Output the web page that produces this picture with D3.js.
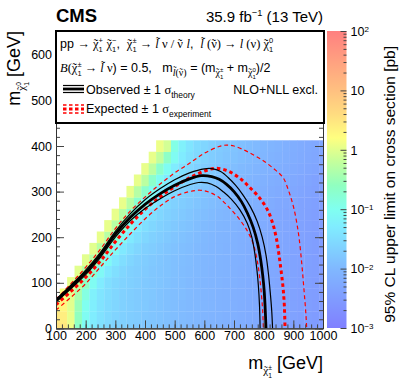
<!DOCTYPE html>
<html>
<head>
<meta charset="utf-8">
<title>chargino slepton limit</title>
<script src="https://d3js.org/d3.v7.min.js"></script>
<style>
  body { margin: 0; background: #fff; }
  svg text { font-family: "Liberation Sans", Arial, Helvetica, sans-serif; fill: #000; white-space: pre; }
  .tk line { stroke: #444; }
  .tk path { stroke: #333; }
</style>
</head>
<body>
<svg id="chart" width="399" height="383"></svg>
<script>
// ---- data ----
const mChi = [100,125,150,175,200,225,250,275,300,325,350,375,400,425,450,475,500,525,550,575,
              600,625,650,675,700,725,750,775,800,825,850,875,900,925,950,975,1000];
const mLsp = [0,25,50,75,100,125,150,175,200,225,250,275,300,325,350,375,400];

// 95% CL upper limits [pb], one row per LSP mass, last entry at m(chi) = 1000
const lim0   = [3.5,2.8,1.2,.22,.085,.05,.036,.028,.024,.021,.019,.017,.016,.015,.014,.013,.012,.011,.010,.0095,.009,.0085,.008,.0075,.007,.0065,.006,.0056,.0052,.0048,.0045,.0042,.0039,.0036,.0033,.0031,.0029];
const lim25  = [3.0,2.5,1.1,.25,.09,.052,.037,.029,.024,.021,.019,.018,.016,.015,.014,.013,.012,.011,.0102,.0096,.009,.0086,.008,.0076,.0071,.0066,.0061,.0057,.0053,.0049,.0046,.0043,.004,.0037,.0034,.0032,.003];
const lim50  = [2.2,2.0,1.0,.3,.1,.055,.038,.03,.025,.022,.02,.018,.017,.015,.014,.013,.012,.011,.0104,.0098,.0092,.0087,.0082,.0077,.0072,.0067,.0062,.0058,.0054,.005,.0046,.0043,.004,.0037,.0035,.0032,.003];
const lim75  = [1.5,1.0,.4,.13,.06,.04,.031,.026,.022,.02,.018,.017,.016,.014,.013,.012,.0115,.0106,.01,.0093,.0088,.0083,.0078,.0073,.0068,.0063,.0059,.0055,.0051,.0047,.0044,.0041,.0038,.0035,.0033,.003];
const lim100 = [1.1,.6,.22,.09,.05,.034,.027,.023,.021,.019,.017,.016,.015,.0135,.0125,.0117,.0108,.0101,.0094,.0089,.0084,.0079,.0074,.0069,.0064,.006,.0056,.0052,.0048,.0045,.0042,.0039,.0036,.0033,.0031];
const lim125 = [1.0,.5,.18,.08,.046,.033,.026,.022,.02,.018,.016,.015,.014,.0128,.0118,.011,.0102,.0095,.009,.0085,.008,.0075,.007,.0065,.006,.0056,.0052,.0049,.0045,.0042,.0039,.0036,.0034,.0031];
const lim150 = [1.0,.5,.17,.08,.045,.032,.025,.021,.019,.017,.0155,.0142,.013,.012,.0112,.0104,.0097,.0091,.0086,.0081,.0076,.0071,.0066,.0061,.0057,.0053,.0049,.0046,.0043,.004,.0037,.0034,.0032];
const lim175 = [1.0,.5,.17,.08,.045,.032,.025,.021,.019,.017,.015,.0135,.0124,.0115,.0106,.0099,.0093,.0087,.0082,.0077,.0072,.0067,.0062,.0058,.0054,.005,.0047,.0043,.004,.0037,.0035,.0032];
const lim200 = [1.1,.5,.18,.085,.047,.033,.026,.022,.019,.017,.015,.0135,.0124,.0113,.0104,.0097,.009,.0084,.0078,.0073,.0068,.0063,.0059,.0055,.0051,.0047,.0044,.0041,.0038,.0035,.0032];
const lim225 = [1.1,.5,.18,.085,.047,.033,.026,.022,.019,.017,.015,.0135,.0122,.0111,.0102,.0094,.0087,.008,.0074,.0069,.0064,.006,.0055,.0051,.0048,.0044,.0041,.0038,.0035,.0033];
const lim250 = [1.1,.5,.19,.085,.048,.034,.026,.022,.019,.017,.015,.0134,.012,.011,.0101,.0093,.0085,.0078,.0072,.0066,.0061,.0056,.0052,.0048,.0045,.0042,.0039,.0036,.0033];
const lim275 = [1.1,.5,.19,.085,.048,.034,.026,.022,.019,.017,.015,.0133,.012,.0109,.01,.0092,.0084,.0077,.0071,.0065,.006,.0055,.0051,.0047,.0043,.004,.0037,.0034];
const lim300 = [1.1,.5,.2,.09,.05,.035,.027,.022,.019,.017,.015,.0133,.012,.0108,.0098,.009,.0082,.0075,.0069,.0063,.0058,.0053,.0049,.0045,.0042,.0039,.0036];
const lim325 = [1.1,.55,.2,.09,.05,.035,.027,.022,.019,.017,.015,.0133,.012,.0108,.0098,.009,.0082,.0075,.0069,.0063,.0058,.0053,.0049,.0045,.0041,.0038];
const lim350 = [1.1,.55,.2,.09,.05,.035,.027,.022,.019,.017,.015,.0133,.012,.0108,.0098,.009,.0082,.0075,.0069,.0063,.0058,.0053,.0049,.0045,.0041];
const lim375 = [1.1,.6,.22,.09,.05,.036,.028,.023,.019,.017,.015,.0135,.012,.011,.01,.0091,.0083,.0076,.007,.0064,.0058,.0053,.0049,.0045];
const lim400 = [1.2,.8,.12,.06,.04,.03,.025,.021,.018,.016,.0145,.013,.0118,.0107,.0097,.0088,.008,.0073,.0067,.0061,.0056,.0051,.0047];
const limRows = [lim0,lim25,lim50,lim75,lim100,lim125,lim150,lim175,lim200,lim225,lim250,lim275,lim300,lim325,lim350,lim375,lim400];

// exclusion contours, [m(chi1+-), m(chi1 0)]
const obsCurve = [[100,61],[150,91],[200,123],[250,162],[300,207],[350,243],[400,272],[450,295],[500,314],[550,328],[590,335],[625,333],[650,327],[675,316],[700,300],[725,278],[745,253],[765,221],[780,186],[790,150],[797,115],[802,80],[805,45],[808,0]];
const obsUp    = [[100,64],[150,95],[200,128],[250,167],[300,213],[350,251],[400,282],[450,306],[500,326],[550,341],[600,350],[630,350],[655,344],[680,331],[705,314],[730,293],[755,267],[778,235],[795,200],[808,160],[816,120],[822,80],[827,40],[830,0]];
const obsDown  = [[100,58],[150,87],[200,118],[250,156],[300,200],[350,236],[400,263],[450,284],[500,302],[550,315],[580,320],[610,319],[640,311],[665,299],[690,284],[720,260],[745,230],[760,200],[770,165],[777,130],[782,95],[786,50],[788,0]];
const expCurve = [[100,52],[150,81],[200,112],[250,148],[300,190],[350,228],[400,261],[450,288],[500,311],[550,330],[600,345],[640,351],[680,345],[720,329],[755,308],[790,283],[815,257],[832,227],[845,190],[853,155],[860,120],[866,85],[870,45],[872,0]];
const expUp    = [[100,64],[150,98],[200,134],[250,174],[300,219],[350,257],[400,288],[450,316],[500,341],[550,362],[600,384],[650,399],[675,402],[700,400],[750,386],[800,367],[840,347],[866,330],[885,300],[900,268],[912,230],[920,195],[928,145],[934,100],[939,60],[943,25],[945,0]];
const expDown  = [[100,40],[150,68],[200,98],[250,135],[300,172],[350,207],[400,240],[450,268],[500,289],[550,300],[585,303],[615,299],[645,289],[675,271],[710,246],[743,216],[765,185],[778,150],[786,115],[793,70],[797,35],[799,0]];

const xTicks = [100,200,300,400,500,600,700,800,900,1000];
const yTicks = [0,100,200,300,400,500,600];
const zTicks = [1e-3,1e-2,1e-1,1,10,100];
const zLabels = [["10","\u22123"],["10","\u22122"],["10","\u22121"],["1",""],["10",""],["10","2"]];

// ---- drawing ----
const SANS = "'Liberation Sans', Arial, Helvetica, sans-serif";
const SERIF = "'Liberation Serif', 'Times New Roman', serif";
const svg = d3.select("#chart");

const x = d3.scaleLinear().domain([100, 1000]).range([56, 323]);
const y = d3.scaleLinear().domain([0, 650]).range([328.4, 32]);
const z = d3.scaleLog().domain([1e-3, 1e2]).range([328, 31]);

const palStops = [-3, -2, -1.3, -1, -0.6, -0.2, 0.2, 0.6, 1, 1.5, 2];
const palCols  = ["#8080ff","#80b8ff","#80ecff","#80fff0","#90ffc0","#c4ff9c","#ffff80","#ffdc80","#ffc080","#ffa080","#ff8080"];
const pal = d3.scaleLinear().domain(palStops).range(palCols).clamp(true);
const colorOf = v => pal(Math.log10(v));

svg.append("defs").append("clipPath").attr("id", "frame")
  .append("rect").attr("x", 56).attr("y", 31).attr("width", 267).attr("height", 297.4);

// heat map cells
const cells = [];
limRows.forEach(function(row, k) {
  const start = mChi.length - row.length;
  row.forEach(function(v, j) { cells.push({mc: mChi[start + j], ml: mLsp[k], v: v}); });
});
svg.append("g").attr("clip-path", "url(#frame)")
  .selectAll("rect").data(cells).enter().append("rect")
    .attr("x", d => x(d.mc - 12.5))
    .attr("y", d => y(d.ml + 12.5))
    .attr("width", d => x(d.mc + 12.5) - x(d.mc - 12.5) + 0.3)
    .attr("height", d => y(d.ml - 12.5) - y(d.ml + 12.5) + 0.3)
    .attr("fill", d => colorOf(d.v));

// contours
const line = d3.line().x(d => x(d[0])).y(d => y(d[1])).curve(d3.curveCatmullRom.alpha(0.5));
const cg = svg.append("g").attr("clip-path", "url(#frame)").attr("fill", "none");
cg.append("path").attr("d", line(expUp)).attr("stroke", "#ff0000").attr("stroke-width", 1.2).attr("stroke-dasharray", "4,3");
cg.append("path").attr("d", line(expDown)).attr("stroke", "#ff0000").attr("stroke-width", 1.2).attr("stroke-dasharray", "4,3");
cg.append("path").attr("d", line(expCurve)).attr("stroke", "#ff0000").attr("stroke-width", 3).attr("stroke-dasharray", "3.5,3");
cg.append("path").attr("d", line(obsUp)).attr("stroke", "#000").attr("stroke-width", 1.2);
cg.append("path").attr("d", line(obsDown)).attr("stroke", "#000").attr("stroke-width", 1.2);
cg.append("path").attr("d", line(obsCurve)).attr("stroke", "#000").attr("stroke-width", 2.8);

// axes, ROOT style ticks inside the frame
function minorOf(lo, hi, step) { return d3.range(lo, hi + 0.001, step); }
const xMinor = minorOf(100, 1000, 20);
const yMinor = minorOf(0, 640, 20);
function styleAxis(g) { g.attr("class", "tk"); g.selectAll("text").style("font-size", "12.5px").style("font-family", SANS).attr("fill", "#000"); }

svg.append("g").attr("transform", "translate(0,328.4)")
  .call(d3.axisBottom(x).tickValues(xMinor).tickSize(-4).tickSizeOuter(0).tickFormat(""))
  .call(styleAxis);
svg.append("g").attr("transform", "translate(0,328.4)")
  .call(d3.axisBottom(x).tickValues(xTicks).tickSize(-8).tickSizeOuter(0).tickPadding(3).tickFormat(d3.format("d")))
  .call(styleAxis);
svg.append("g").attr("transform", "translate(56,0)")
  .call(d3.axisLeft(y).tickValues(yMinor).tickSize(-4).tickSizeOuter(0).tickFormat(""))
  .call(styleAxis);
svg.append("g").attr("transform", "translate(56,0)")
  .call(d3.axisLeft(y).tickValues(yTicks).tickSize(-8).tickSizeOuter(0).tickPadding(4).tickFormat(d3.format("d")))
  .call(styleAxis);
svg.append("g").attr("transform", "translate(323,0)")
  .call(d3.axisRight(y).tickValues(yMinor).tickSize(-4).tickSizeOuter(0).tickFormat(""))
  .call(styleAxis);
svg.append("g").attr("transform", "translate(323,0)")
  .call(d3.axisRight(y).tickValues(yTicks).tickSize(-8).tickSizeOuter(0).tickFormat(""))
  .call(styleAxis);

// colour bar
const grad = svg.select("defs").append("linearGradient").attr("id", "zgrad")
  .attr("x1", 0).attr("y1", 1).attr("x2", 0).attr("y2", 0);
palStops.forEach(function(s, i) {
  grad.append("stop").attr("offset", (s + 3) / 5).attr("stop-color", palCols[i]);
});
svg.append("rect").attr("x", 327).attr("y", 31).attr("width", 19.5).attr("height", 297).attr("fill", "url(#zgrad)");
const zMinor = [];
[1e-3, 1e-2, 1e-1, 1, 10].forEach(function(d) { for (let m = 2; m <= 9; m++) zMinor.push(d * m); });
svg.append("g").attr("transform", "translate(346.5,0)")
  .call(d3.axisRight(z).tickValues(zMinor).tickSize(-3).tickSizeOuter(0).tickFormat(""))
  .call(styleAxis).select(".domain").remove();
const zax = svg.append("g").attr("transform", "translate(346.5,0)")
  .call(d3.axisRight(z).tickValues(zTicks).tickSize(-6).tickSizeOuter(0).tickPadding(4).tickFormat(""))
  .call(styleAxis);
zax.select(".domain").remove();
zax.selectAll(".tick").each(function(d, i) {
  const t = d3.select(this).append("text").attr("x", 4).attr("dy", "0.35em").attr("text-anchor", "start")
    .style("font-size", "12.5px").attr("fill", "#000");
  t.append("tspan").text(zLabels[i][0]);
  if (zLabels[i][1]) t.append("tspan").attr("dy", "-0.45em").style("font-size", "8px").text(zLabels[i][1]);
});

// rich text helper (sub/superscripts, tildes)
function rich(parent, parts, size) {
  const g = parent.append("g");
  let cx = 0, stack = null;
  parts.forEach(function(p) {
    const fs = size * (p.sc || 1);
    const dy = (p.dy || 0) * size;
    const px = p.st === 2 ? stack.x : cx;
    const t = g.append("text").attr("x", px).attr("y", dy)
      .style("font-size", fs + "px")
      .style("font-family", p.f === "s" ? SERIF : SANS)
      .style("font-style", p.it ? "italic" : "normal")
      .style("font-weight", p.b ? "bold" : "normal")
      .text(p.t);
    const w = t.node().getComputedTextLength();
    if (p.tl !== undefined) {
      g.append("text").attr("x", px + w / 2 + (p.it ? 0.08 * fs : 0)).attr("y", dy - p.tl * fs)
        .attr("text-anchor", "middle").style("font-size", fs + "px").style("font-family", SERIF).text("\u02DC");
    }
    if (p.st === 1) { stack = {x: cx, w: w}; }
    else if (p.st === 2) { cx = stack.x + Math.max(stack.w, w); stack = null; }
    else { cx = px + w; }
  });
  return {g: g, w: cx};
}
const T = (t, o) => Object.assign({t: t}, o || {});
function chi(sup, sub, sc, dy) {
  sc = sc || 1; dy = dy || 0;
  return [T("\u03C7", {f: "s", tl: 0.02, sc: sc, dy: dy}),
          T(sup, {sc: sc * 0.6, dy: dy - 0.38 * sc, st: 1}),
          T(sub, {sc: sc * 0.6, dy: dy + 0.28 * sc, st: 2})];
}
const slep = (o) => T("l", Object.assign({f: "s", it: 1, tl: 0.2}, o || {}));
const snu = (o) => T("\u03BD", Object.assign({f: "s", tl: 0.02}, o || {}));

// header
svg.append("text").attr("x", 56).attr("y", 22).style("font-size", "18.5px").style("font-weight", "bold").text("CMS");
const lumi = rich(svg, [T("35.9 fb"), T("\u22121", {sc: 0.62, dy: -0.42}), T(" (13 TeV)")], 15);
lumi.g.attr("transform", "translate(" + (323 - lumi.w) + ",22)");

// legend box
svg.append("rect").attr("x", 56).attr("y", 31).attr("width", 268).attr("height", 92)
  .attr("fill", "#fff").attr("stroke", "#000").attr("stroke-width", 2);

const l1 = rich(svg, [].concat(
  [T("pp "), T("\u2192 ", {f: "s"})], chi("+", "1"), [T(" ")], chi("\u2212", "1"), [T(",  ")],
  chi("\u00B1", "1"), [T(" \u2192 ", {f: "s"}), slep(), T(" \u03BD / ", {f: "s"}), snu(), T(" "),
  T("l", {f: "s", it: 1}), T(",  "), slep(), T(" (", {f: "s"}), snu(), T(") \u2192 ", {f: "s"}),
  T("l", {f: "s", it: 1}), T(" (\u03BD) ", {f: "s"})], chi("0", "1")), 12.5);
l1.g.attr("transform", "translate(60,48)");

const subS = 0.8, subD = 0.3;
const l2 = rich(svg, [].concat(
  [T("B", {f: "s", it: 1}), T("(", {f: "s"})], chi("\u00B1", "1"),
  [T(" \u2192 ", {f: "s"}), slep(), T(" \u03BD", {f: "s"}), T(") = 0.5,   m"),
   slep({sc: subS, dy: subD}), T("(", {f: "s", sc: subS, dy: subD}), snu({sc: subS, dy: subD}), T(")", {f: "s", sc: subS, dy: subD}),
   T(" = (m")], chi("\u00B1", "1", subS, subD), [T(" + m")], chi("0", "1", subS, subD), [T(")/2")]), 12.5);
l2.g.attr("transform", "translate(60,72)");

const l3 = rich(svg, [T("Observed \u00B1 1 "), T("\u03C3", {f: "s"}), T("theory", {sc: 0.68, dy: 0.32})], 12.5);
l3.g.attr("transform", "translate(86,94)");
svg.append("text").attr("x", 318).attr("y", 94).attr("text-anchor", "end").style("font-size", "12.5px").text("NLO+NLL excl.");
const l4 = rich(svg, [T("Expected \u00B1 1 "), T("\u03C3", {f: "s"}), T("experiment", {sc: 0.68, dy: 0.32})], 12.5);
l4.g.attr("transform", "translate(86,113)");

// legend symbols
const sym = svg.append("g");
[[85.5, 1.2], [89, 2.8], [92.5, 1.2]].forEach(function(s) {
  sym.append("line").attr("x1", 63).attr("x2", 84).attr("y1", s[0]).attr("y2", s[0]).attr("stroke", "#000").attr("stroke-width", s[1]);
});
[[105, 1.4], [109, 3], [113, 1.4]].forEach(function(s) {
  sym.append("line").attr("x1", 63).attr("x2", 84).attr("y1", s[0]).attr("y2", s[0]).attr("stroke", "#ff0000")
    .attr("stroke-width", s[1]).attr("stroke-dasharray", "3.5,2.5");
});

// axis titles
const xt = rich(svg, [].concat([T("m")], chi("\u00B1", "1", 0.62, 0.3), [T(" [GeV]")]), 18);
xt.g.attr("transform", "translate(" + (323 - xt.w) + ",369)");
const yt = rich(svg, [].concat([T("m")], chi("0", "1", 0.62, 0.3), [T(" [GeV]")]), 18);
yt.g.attr("transform", "translate(20," + (31 + yt.w) + ") rotate(-90)");
const zt = rich(svg, [T("95% CL upper limit on cross section [pb]")], 15.5);
zt.g.attr("transform", "translate(395," + (46 + zt.w) + ") rotate(-90)");
</script>
</body>
</html>
